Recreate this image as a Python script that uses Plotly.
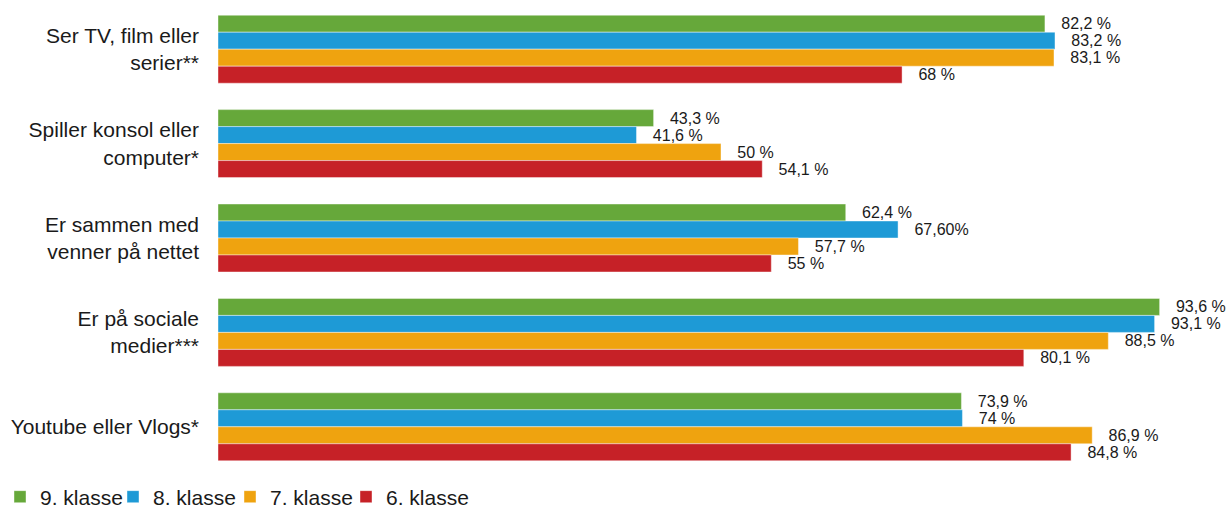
import plotly.graph_objects as go

categories = ["Ser TV, film eller<br>serier**", "Spiller konsol eller<br>computer*",
              "Er sammen med<br>venner på nettet", "Er på sociale<br>medier***",
              "Youtube eller Vlogs*"]
series_names = ["9. klasse", "8. klasse", "7. klasse", "6. klasse"]
values_9 = [82.2, 43.3, 62.4, 93.6, 73.9]
values_8 = [83.2, 41.6, 67.6, 93.1, 74.0]
values_7 = [83.1, 50.0, 57.7, 88.5, 86.9]
values_6 = [68.0, 54.1, 55.0, 80.1, 84.8]
labels_9 = ["82,2 %", "43,3 %", "62,4 %", "93,6 %", "73,9 %"]
labels_8 = ["83,2 %", "41,6 %", "67,60%", "93,1 %", "74 %"]
labels_7 = ["83,1 %", "50 %", "57,7 %", "88,5 %", "86,9 %"]
labels_6 = ["68 %", "54,1 %", "55 %", "80,1 %", "84,8 %"]
colors = ["#66A83A", "#1E9AD6", "#EFA30F", "#C62127"]
legend_ids = ["legend", "legend2", "legend3", "legend4"]
legend_x_px = [-3, 113, 230, 346]

FONT = "Liberation Sans, Arial, Helvetica, sans-serif"
pad = "\u00a0" * 3

fig = go.Figure()
for name, vals, labs, col, lid in zip(series_names, [values_9, values_8, values_7, values_6],
                                      [labels_9, labels_8, labels_7, labels_6], colors, legend_ids):
    fig.add_trace(go.Bar(
        y=categories, x=vals, name=name, orientation="h", legend=lid,
        marker=dict(color=col, line=dict(color="rgba(255,255,255,0.6)", width=0.7)),
        text=[pad + t for t in labs], textposition="outside",
        textfont=dict(size=16, color="#1a1a1a", family=FONT),
        outsidetextfont=dict(size=16, color="#1a1a1a", family=FONT),
        cliponaxis=False, constraintext="none",
        hoverinfo="skip",
    ))

W, H = 1229, 508
legend_common = dict(orientation="h", xref="container", yref="container",
                     xanchor="left", yanchor="middle", y=1 - 497 / H,
                     font=dict(size=21, family=FONT), itemwidth=30,
                     bgcolor="rgba(0,0,0,0)")
layout_legends = {}
for lid, px in zip(legend_ids, legend_x_px):
    layout_legends[lid] = dict(legend_common, x=px / W)

fig.update_layout(
    width=W, height=H,
    barmode="group", bargap=0.28, bargroupgap=0,
    plot_bgcolor="white", paper_bgcolor="white",
    margin=dict(l=218, r=5, t=2, b=34, autoexpand=False),
    font=dict(family=FONT, size=21, color="#1a1a1a"),
    xaxis=dict(range=[0, 100], visible=False, showgrid=False, zeroline=False),
    yaxis=dict(autorange="reversed", showgrid=False, zeroline=False, showline=False,
               ticks="", ticklabelstandoff=18, tickfont=dict(size=21, family=FONT)),
    showlegend=True,
    **layout_legends,
)

fig.write_html("out.html", config={"displayModeBar": False},
               post_script="document.body.style.margin='0';")
